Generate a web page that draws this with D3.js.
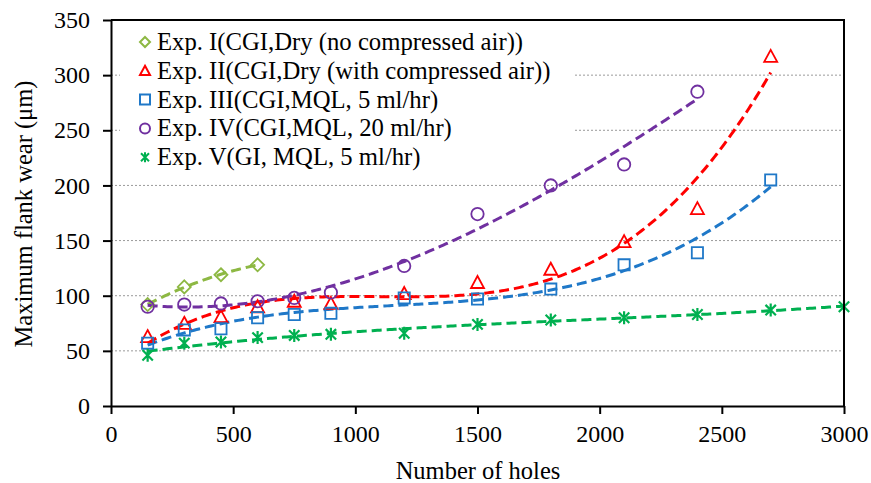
<!DOCTYPE html>
<html>
<head>
<meta charset="utf-8">
<script src="https://cdn.jsdelivr.net/npm/d3@7"></script>
<style>
  body { margin: 0; background: #fff; }
</style>
</head>
<body>
<svg id="chart" width="871" height="483"></svg>
<script>
// data
const holes = [150, 300, 450, 600, 750, 900, 1200, 1500, 1800, 2100, 2400, 2700, 3000];
const exp1 = [92, 108, 119, 128];
const exp2 = [63, 75, 81, 90, 95, 93, 102, 112, 124, 149, 179, 317];
const exp3 = [57, 69, 70, 80, 83, 84, 98, 97, 106, 128, 139, 205];
const exp4 = [90, 92, 93, 95, 98, 103, 127, 174, 200, 219, 285];
const exp5 = [46, 57, 58, 62, 64, 65, 66, 74, 78, 80, 83, 87, 90];
const labels = [
  "Exp. I(CGI,Dry (no compressed air))",
  "Exp. II(CGI,Dry (with compressed air))",
  "Exp. III(CGI,MQL, 5 ml/hr)",
  "Exp. IV(CGI,MQL, 20 ml/hr)",
  "Exp. V(GI, MQL, 5 ml/hr)"
];
const xTicks = [0, 500, 1000, 1500, 2000, 2500, 3000];
const yTicks = [0, 50, 100, 150, 200, 250, 300, 350];

const FONT = "Liberation Serif";
const series = [
  {name: labels[0], values: exp1, color: "#8DB843", shape: "diamond", degree: 2},
  {name: labels[1], values: exp2, color: "#FF0000", shape: "triangle", degree: 3},
  {name: labels[2], values: exp3, color: "#1F78C8", shape: "square", degree: 3},
  {name: labels[3], values: exp4, color: "#7030A0", shape: "circle", degree: 3},
  {name: labels[4], values: exp5, color: "#00B050", shape: "star", degree: 3}
];
series.forEach(s => s.points = s.values.map((v, i) => [holes[i], v]));

const svg = d3.select("#chart");
const x = d3.scaleLinear().domain([0, 3000]).range([111, 844]);
const y = d3.scaleLinear().domain([0, 350]).range([406, 20]);

// gridlines
svg.append("g").selectAll("line")
  .data(yTicks.filter(t => t > 0 && t < 350)).join("line")
  .attr("x1", x(0)).attr("x2", x(3000))
  .attr("y1", d => y(d)).attr("y2", d => y(d))
  .attr("stroke", "#9a9a9a").attr("stroke-width", 1).attr("stroke-dasharray", "2,2");

// legend background
svg.append("rect").attr("x", 120).attr("y", 24).attr("width", 455).attr("height", 148).attr("fill", "#fff");

// least squares polynomial trendline (x in thousands)
function polyfit(pts, deg) {
  const n = deg + 1;
  const A = Array.from({length: n}, () => new Array(n + 1).fill(0));
  pts.forEach(([px, py]) => {
    const t = px / 1000;
    for (let r = 0; r < n; r++) {
      for (let c = 0; c < n; c++) A[r][c] += Math.pow(t, r + c);
      A[r][n] += py * Math.pow(t, r);
    }
  });
  for (let i = 0; i < n; i++) {
    let p = i;
    for (let k = i + 1; k < n; k++) if (Math.abs(A[k][i]) > Math.abs(A[p][i])) p = k;
    [A[i], A[p]] = [A[p], A[i]];
    for (let k = 0; k < n; k++) {
      if (k === i) continue;
      const f = A[k][i] / A[i][i];
      for (let c = i; c <= n; c++) A[k][c] -= f * A[i][c];
    }
  }
  const coef = A.map((row, i) => row[n] / row[i]);
  return px => coef.reduce((s, c, i) => s + c * Math.pow(px / 1000, i), 0);
}

const line = d3.line().x(d => x(d[0])).y(d => y(d[1]));
svg.append("g").selectAll("path")
  .data(series).join("path")
  .attr("fill", "none")
  .attr("stroke", d => d.color)
  .attr("stroke-width", 3)
  .attr("stroke-dasharray", "10,5")
  .attr("d", d => {
    const f = polyfit(d.points, d.degree);
    const x0 = d.points[0][0], x1 = d.points[d.points.length - 1][0];
    return line(d3.range(x0, x1 + 1, 10).map(h => [h, f(h)]));
  });

// marker shapes
function marker(shape, s) {
  if (shape === "diamond") return `M0,${-s}L${s},0L0,${s}L${-s},0Z`;
  if (shape === "triangle") return `M0,${-s}L${s},${s * 0.85}L${-s},${s * 0.85}Z`;
  if (shape === "square") return `M${-s},${-s}H${s}V${s}H${-s}Z`;
  if (shape === "circle") return `M${s},0A${s},${s} 0 1,1 ${-s},0A${s},${s} 0 1,1 ${s},0Z`;
  const a = s * 0.8;
  return `M${-a},${-a}L${a},${a}M${-a},${a}L${a},${-a}M0,${-s}L0,${s}`;
}
const size = {diamond: 6.5, triangle: 6.5, square: 5.6, circle: 6.2, star: 6.5};

series.forEach(s => {
  svg.append("g").selectAll("path")
    .data(s.points).join("path")
    .attr("transform", d => `translate(${x(d[0])},${y(d[1])})`)
    .attr("d", marker(s.shape, size[s.shape]))
    .attr("fill", "none")
    .attr("stroke", s.color)
    .attr("stroke-width", s.shape === "star" ? 2.2 : 1.8);
});

// axes
const yAxis = svg.append("g").attr("transform", `translate(${x(0)},0)`)
  .call(d3.axisLeft(y).tickValues(yTicks).tickFormat(d3.format("d")).tickSize(8).tickSizeOuter(0).tickPadding(13));
const xAxis = svg.append("g").attr("transform", `translate(0,${y(0)})`)
  .call(d3.axisBottom(x).tickValues(xTicks).tickFormat(d3.format("d")).tickSize(8).tickSizeOuter(0).tickPadding(11));
[yAxis, xAxis].forEach(g => {
  g.attr("font-family", FONT).attr("font-size", 24);
  g.select(".domain").attr("stroke", "#000").attr("stroke-width", 2);
  g.selectAll(".tick line").attr("stroke", "#000").attr("stroke-width", 2);
  g.selectAll(".tick text").attr("fill", "#000");
});

// frame top + right
svg.append("path")
  .attr("d", `M${x(0)},${y(350)}H${x(3000)}V${y(0)}`)
  .attr("fill", "none").attr("stroke", "#000").attr("stroke-width", 2);

// axis titles
svg.append("text").attr("x", 478).attr("y", 479).attr("text-anchor", "middle")
  .attr("font-family", FONT).attr("font-size", 24.5).text("Number of holes");
svg.append("text").attr("transform", "translate(32,214) rotate(-90)").attr("text-anchor", "middle")
  .attr("font-family", FONT).attr("font-size", 24.5).text("Maximum flank wear (\u03bcm)");

// legend
const leg = svg.append("g").selectAll("g").data(series).join("g")
  .attr("transform", (d, i) => `translate(145,${42 + i * 28.8})`);
leg.append("path")
  .attr("d", d => marker(d.shape, 5))
  .attr("fill", "none").attr("stroke", d => d.color).attr("stroke-width", 2);
leg.append("text").attr("x", 12).attr("y", 8)
  .attr("font-family", FONT).attr("font-size", 24.7).text(d => d.name);
</script>
</body>
</html>
